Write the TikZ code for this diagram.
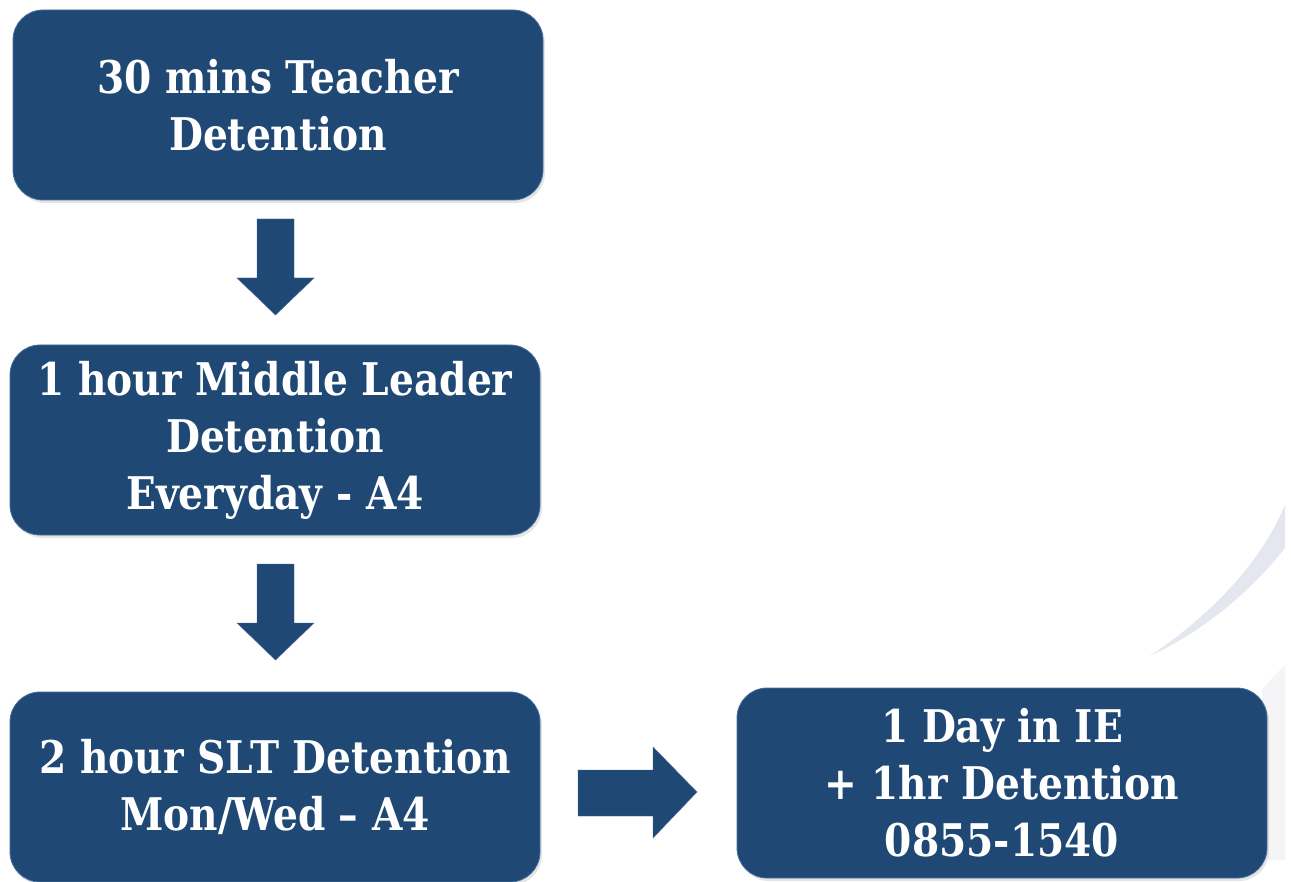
\documentclass[tikz,border=0pt]{standalone}
\usepackage{fontspec}
\setmainfont{DejaVu Serif}[FakeStretch=0.87]
\usetikzlibrary{shadows}
\definecolor{boxblue}{RGB}{31,73,116}
\definecolor{boxedge}{RGB}{70,110,160}
\definecolor{swoosh}{RGB}{228,231,240}
\definecolor{swooshlight}{RGB}{245,245,248}
\tikzset{
  stage/.style={rounded corners=30pt, fill=boxblue, draw=boxedge, line width=0.8pt,
    minimum width=530pt, minimum height=190pt, text=white, align=center,
    font=\bfseries\fontsize{45}{57}\selectfont,
    drop shadow={opacity=0.2, shadow xshift=2pt, shadow yshift=-3pt}},
  blockarrow/.style={fill=boxblue, draw=boxedge, line width=0.4pt}
}
\begin{document}
\begin{tikzpicture}[x=1pt,y=-1pt]
\useasboundingbox (0,0) rectangle (1291,882);
\fill[white] (0,0) rectangle (1291,882);
% decorative swooshes at the right edge
\fill[swoosh] (1150,656) .. controls (1215,612) and (1262,560) .. (1285,505)
  -- (1285,548) .. controls (1250,592) and (1205,630) .. (1150,656) -- cycle;
\fill[swooshlight] (1262,690) .. controls (1272,678) and (1280,670) .. (1285,665)
  -- (1285,860) -- (1268,860) -- cycle;
% stages
\node[stage] (b1) at (278,105) {30 mins Teacher\\Detention};
\node[stage] (b2) at (275,440) {1 hour Middle Leader\\Detention\\Everyday - A4};
\node[stage] (b3) at (275,787) {2 hour SLT Detention\\Mon/Wed – A4};
\node[stage] (b4) at (1002,783) {1 Day in IE\\+ 1hr Detention\\0855-1540};
% block arrows between stages
\draw[blockarrow] (257,219) -- (294,219) -- (294,278) -- (314,278) -- (275.5,315)
  -- (237,278) -- (257,278) -- cycle;
\draw[blockarrow] (257,564) -- (294,564) -- (294,623) -- (314,623) -- (275.5,660)
  -- (237,623) -- (257,623) -- cycle;
\draw[blockarrow] (578,770) -- (653,770) -- (653,747) -- (697,792) -- (653,838)
  -- (653,816) -- (578,816) -- cycle;
\end{tikzpicture}
\end{document}
